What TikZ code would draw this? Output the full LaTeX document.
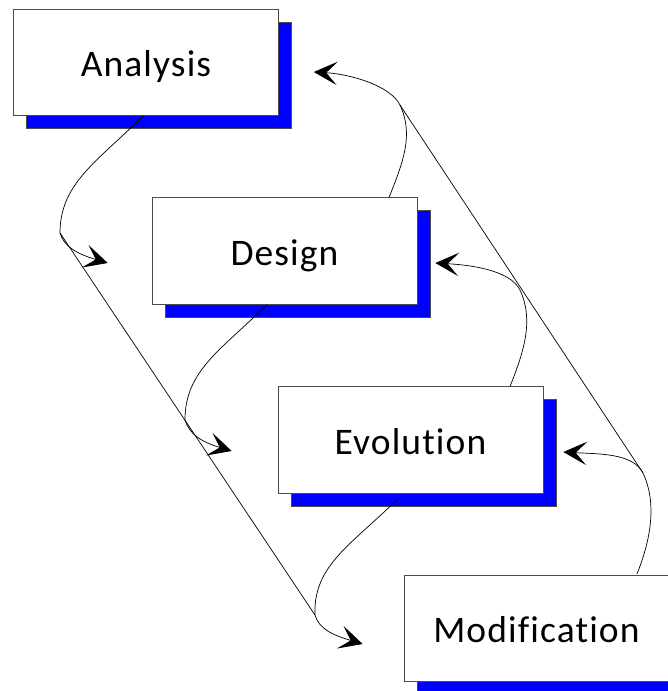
\documentclass[tikz,border=0pt]{standalone}
\usepackage{fontspec}
\newfontfamily\phasefont[LetterSpace=3,Ligatures=NoCommon]{Carlito}
\usetikzlibrary{arrows.meta,calc,shadows}

\begin{document}
\begin{tikzpicture}[x=0.3mm,y=-0.3mm,
        phase/.style={draw=black!70,fill=white,line width=0.6pt,inner sep=0pt,
            minimum width=79.5mm,minimum height=31.9mm,text height=8.6mm,text depth=0pt,
            font=\phasefont\fontsize{32}{38}\selectfont,
            copy shadow={shadow xshift=3.9mm,shadow yshift=-3.9mm,fill=blue,draw=black!70,opacity=1}},
        flow/.style={line width=0.6pt,-{Stealth[length=7mm,width=7mm,inset=3.3mm]}},
        link/.style={line width=0.6pt}]
        \useasboundingbox (0,0) rectangle (668,691);
        % phases
        \node[phase] (analysis) at (146,62.5) {Analysis};
        \node[phase] (design) at (284.5,251) {Design};
        \node[phase] (evolution) at (410.5,440) {Evolution};
        \node[phase] (modification) at (536.5,628.5) {Modification};
        % turning points
        \coordinate (k1) at (60,233);
        \coordinate (k2) at (185,420);
        \coordinate (k3) at (315,615);
        \coordinate (r1) at (400,105);
        \coordinate (r2) at (520,290);
        \coordinate (r3) at (643,473);
        % forward
        \draw[flow] ($(analysis.south)+(-3,0)$) .. controls +(-45,45) and +(0,-50) .. (k1)
            .. controls +(4,14) and +(-30,-9) .. ($(design.west)+(-44,12)$);
        \draw[flow] ($(design.south)+(-17.5,0)$) .. controls +(-45,45) and +(0,-50) .. (k2)
            .. controls +(4,14) and +(-30,-9) .. ($(evolution.west)+(-46,11)$);
        \draw[flow] ($(evolution.south)+(-13.5,6)$) .. controls +(-45,45) and +(-2,-50) .. (k3)
            .. controls +(4,14) and +(-30,-9) .. ($(modification.west)+(-41,15.5)$);
        % backward
        \draw[flow] ($(design.north)+(104.5,0)$) .. controls +(14,-35) and +(14,30) .. (r1)
            .. controls +(-10,-20) and +(35,2) .. ($(analysis.east)+(35,9.5)$);
        \draw[flow] ($(evolution.north)+(99.5,0)$) .. controls +(14,-35) and +(14,30) .. (r2)
            .. controls +(-10,-20) and +(35,2) .. ($(design.east)+(18,12)$);
        \draw[flow] ($(modification.north)+(100.5,-1)$) .. controls +(14,-35) and +(14,30) .. (r3)
            .. controls +(-10,-20) and +(35,2) .. ($(evolution.east)+(20,12)$);
        % sides
        \draw[link] (k1) -- (k3);
        \draw[link] (r1) -- (r3);
\end{tikzpicture}
\end{document}
